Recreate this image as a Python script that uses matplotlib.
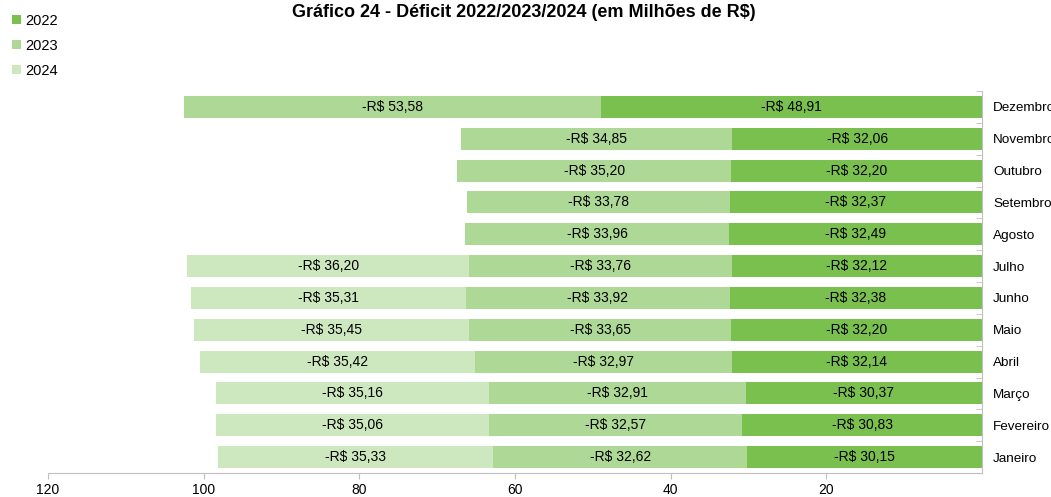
import matplotlib
matplotlib.use('Agg')
import matplotlib.pyplot as plt
import numpy as np

plt.rcParams['font.family'] = ['Liberation Sans', 'DejaVu Sans']

months = ['Janeiro', 'Fevereiro', 'Março', 'Abril', 'Maio', 'Junho',
          'Julho', 'Agosto', 'Setembro', 'Outubro', 'Novembro', 'Dezembro']
d2022 = [30.15, 30.83, 30.37, 32.14, 32.20, 32.38, 32.12, 32.49, 32.37, 32.20, 32.06, 48.91]
d2023 = [32.62, 32.57, 32.91, 32.97, 33.65, 33.92, 33.76, 33.96, 33.78, 35.20, 34.85, 53.58]
d2024 = [35.33, 35.06, 35.16, 35.42, 35.45, 35.31, 36.20, None, None, None, None, None]

series = [('2022', d2022, '#7ac04f'), ('2023', d2023, '#add896'), ('2024', d2024, '#cde7bf')]

fig = plt.figure(figsize=(10.51, 4.97), dpi=100)
ax = fig.add_axes([48 / 1051, 1 - 473 / 497, (982 - 48) / 1051, (473 - 91) / 497])

y = np.arange(len(months))
left = np.zeros(len(months))
handles = []
for name, vals, color in series:
    v = np.array([np.nan if x is None else x for x in vals])
    w = np.nan_to_num(v)
    bars = ax.barh(y, w, left=left, height=0.69, color=color, label=name)
    handles.append(bars)
    for i, val in enumerate(vals):
        if val is not None:
            ax.text(left[i] + val / 2, y[i], f'-R$ {val:.2f}'.replace('.', ','),
                    ha='center', va='center', fontsize=10, color='black')
    left = left + w

ax.set_xlim(120, 0)
ax.set_ylim(-0.5, len(months) - 0.5)
ax.set_xticks([120, 100, 80, 60, 40, 20])
ax.tick_params(axis='x', colors='#bfbfbf', labelcolor='black', labelsize=10, length=4)

ax.yaxis.tick_right()
ax.set_yticks(y)
ax.set_yticklabels(months, fontsize=9.7)
ax.tick_params(axis='y', which='major', length=0, pad=8)
ax.set_yticks(np.arange(-0.5, len(months), 1), minor=True)
ax.tick_params(axis='y', which='minor', direction='in', length=4, color='#bfbfbf')

for s in ['top', 'left']:
    ax.spines[s].set_visible(False)
ax.spines['right'].set_color('#bfbfbf')
ax.spines['bottom'].set_color('#bfbfbf')

fig.text(0.498, 0.975, 'Gráfico 24 - Déficit 2022/2023/2024 (em Milhões de R$)',
         ha='center', va='center', fontsize=13, fontweight='bold')

fig.legend(handles=handles, labels=['2022', '2023', '2024'], loc='upper left',
           bbox_to_anchor=(0.003, 0.99), frameon=False, fontsize=10.5,
           handlelength=0.6, handleheight=0.6, handletextpad=0.3,
           labelspacing=0.75, borderaxespad=0.2)

fig.savefig('out.png', dpi=100)
